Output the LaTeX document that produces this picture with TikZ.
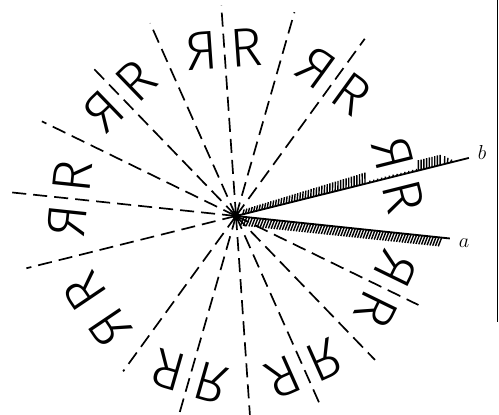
\documentclass[tikz,border=0pt]{standalone}
\usepackage{fontspec}
\newfontfamily\glyphfont{Fira Sans Light}
\usepackage{tikz}
\usetikzlibrary{calc}
\tikzset{
  glyph/.style={inner sep=0pt,font=\glyphfont\fontsize{39}{40}\selectfont},
  ray/.style={line width=1.2pt,dash pattern=on 10pt off 5pt},
  mirror/.style={line width=1.3pt},
  hatch/.style={line width=1pt},
  lbl/.style={font=\Large,inner sep=1pt},
}
\begin{document}
\begin{tikzpicture}[x=0.025cm,y=0.025cm]
\useasboundingbox (0,0) rectangle (499,414);
\coordinate (c) at (236,198);
% images of the mirrors
\foreach \ang/\len in {54/219,74/212,94/211,114/211,134/205,154/216,174/225,194/216,234/192,254/215,274/215,294/206,314/200,334/203} {
  \draw[ray] (c) -- ++(\ang:\len);
}
% mirrors a and b
\draw[mirror] (c) -- ++(-6:215) coordinate (aend);
\draw[mirror] (c) -- ++(14:240) coordinate (bend);
\node[lbl] (la) at (464,171) {$a$};
\node[lbl] (lb) at (482,262) {$b$};
\begin{scope}[shift={(c)},rotate=-6]
  \foreach \t in {8,10.8,...,207} \draw[hatch] (\t,0) -- ++(-2.5,-9);
\end{scope}
\begin{scope}[shift={(c)},rotate=14]
  \foreach \t in {7,9.8,...,134} \draw[hatch] (\t,0) -- ++(2.5,{4+7*\t/134});
  \foreach \t in {138,142,...,186} \draw[hatch] (\t,0) -- ++(0.5,2);
  \foreach \t in {188,190.8,...,212} \draw[hatch] (\t,0) -- ++(2.5,10);
  \foreach \t in {215,217.8,221} \draw[hatch] (\t,0) -- ++(2,{10*(224-\t)/12});
\end{scope}
\fill (c) circle (3.5);
% the letter and its reflections
\foreach \k in {0,...,8} {
  \pgfmathsetmacro\ang{14+40*\k}
  \begin{scope}[shift={(c)},rotate=\ang,transform shape]
    \node[glyph,rotate=-90] (r\k) at (167,-22) {R};
    \node[glyph,rotate=-90,xscale=-1] (m\k) at (167,22) {R};
  \end{scope}
}
% page edge
\draw[line width=0.5pt] (497,414) -- (497,92);
\end{tikzpicture}
\end{document}
